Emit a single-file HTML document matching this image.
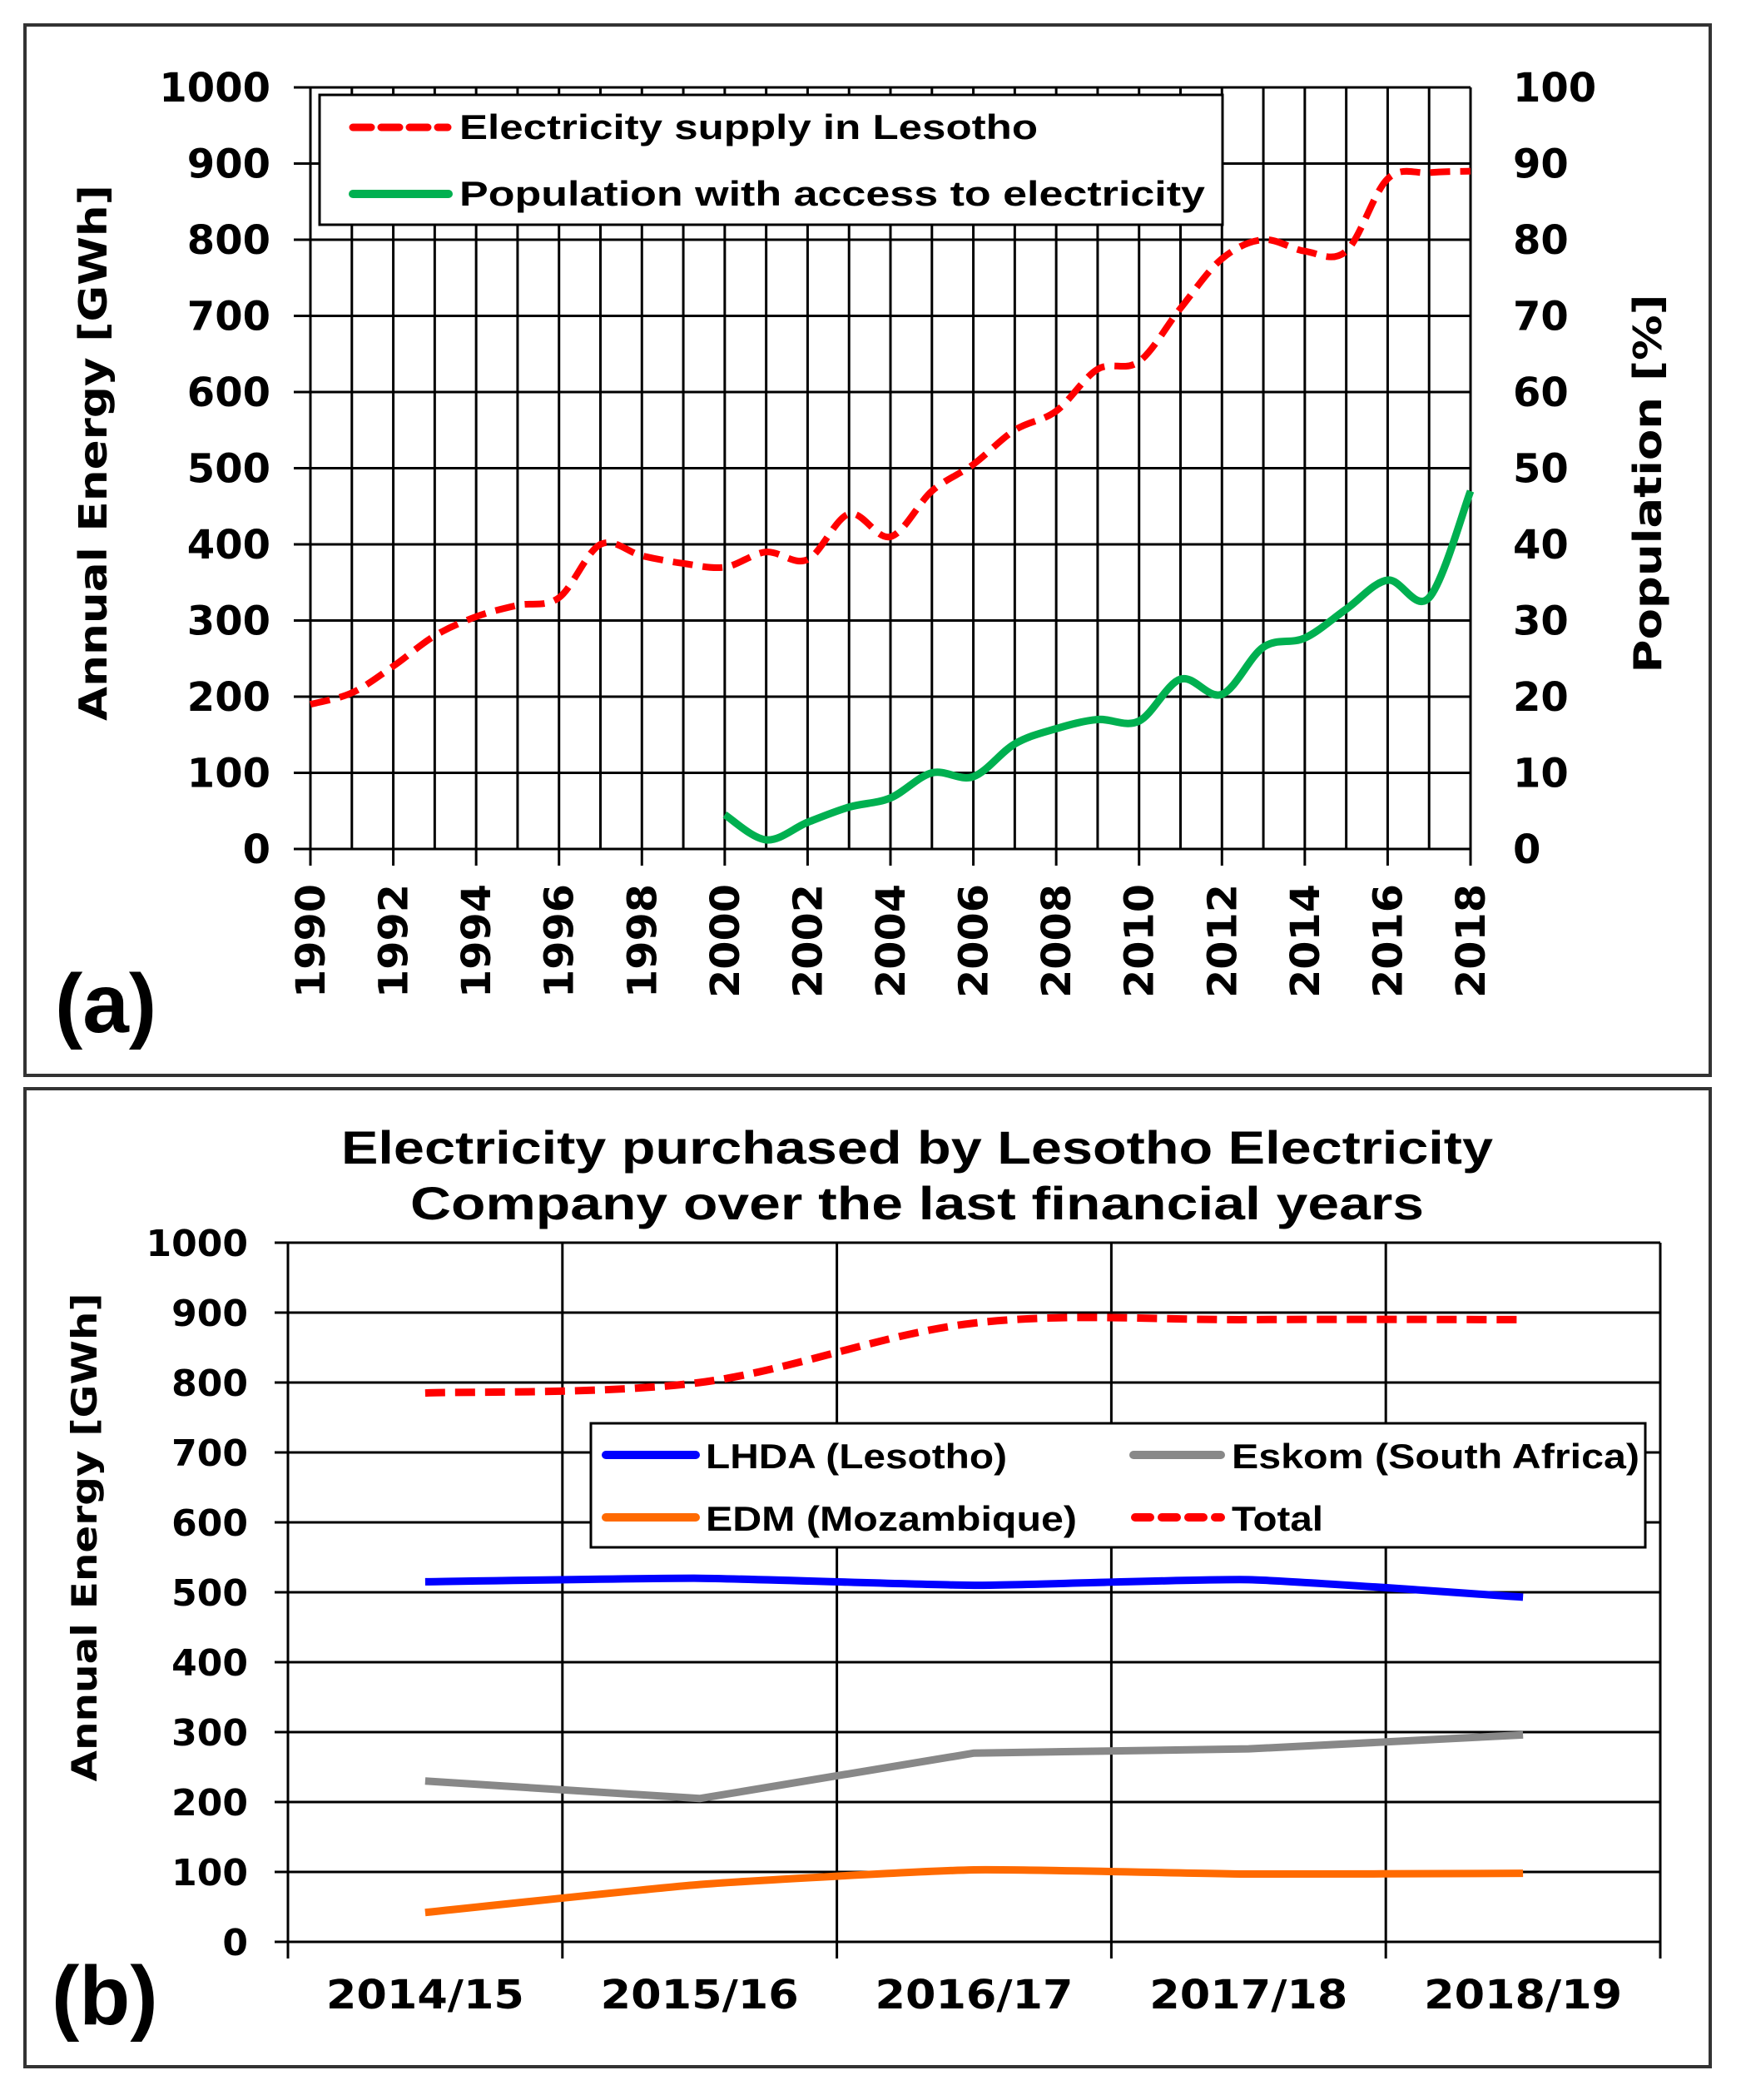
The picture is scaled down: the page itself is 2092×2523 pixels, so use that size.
<!DOCTYPE html>
<html><head><meta charset="utf-8"><style>
html,body{margin:0;padding:0;background:#fff}
svg{display:block}
.v{font-family:"DejaVu Sans",sans-serif;font-weight:bold;fill:#000}
.c{font-family:"Liberation Sans",sans-serif;font-weight:bold;fill:#000}
</style></head><body>
<svg id="s" width="2092" height="2523" viewBox="0 0 2092 2523" xmlns="http://www.w3.org/2000/svg">
<rect x="0" y="0" width="2092" height="2523" fill="#fff"/>
<rect x="30" y="30" width="2025" height="1262" fill="none" stroke="#333" stroke-width="4"/>
<rect x="30" y="1308" width="2025" height="1175" fill="none" stroke="#333" stroke-width="4"/>
<g id="ga"></g>
<g id="gb"></g>
<text class="c" x="66" y="1240" font-size="100">(a)</text>
<text class="c" x="62" y="2432" font-size="100">(b)</text>
<text class="v" transform="translate(128,544) rotate(-90)" text-anchor="middle" font-size="46" textLength="644" lengthAdjust="spacingAndGlyphs">Annual Energy [GWh]</text>
<text class="v" transform="translate(1996,581) rotate(-90)" text-anchor="middle" font-size="46" textLength="455" lengthAdjust="spacingAndGlyphs">Population [%]</text>
<text class="v" transform="translate(116,1847) rotate(-90)" text-anchor="middle" font-size="42" textLength="587" lengthAdjust="spacingAndGlyphs">Annual Energy [GWh]</text>
<text class="c" x="1102" y="1398" text-anchor="middle" font-size="56" textLength="1384" lengthAdjust="spacingAndGlyphs">Electricity purchased by Lesotho Electricity</text>
<text class="c" x="1102" y="1465" text-anchor="middle" font-size="56" textLength="1218" lengthAdjust="spacingAndGlyphs">Company over the last financial years</text>
</svg>
<script>
var NS="http://www.w3.org/2000/svg";
function el(p,t,a,txt){var e=document.createElementNS(NS,t);for(var k in a)e.setAttribute(k,a[k]);if(txt!=null)e.textContent=txt;p.appendChild(e);return e;}
function smooth(pts,t){t=t||6;var d="M"+pts[0][0]+","+pts[0][1];for(var i=0;i<pts.length-1;i++){var p0=pts[i-1]||pts[i],p1=pts[i],p2=pts[i+1],p3=pts[i+2]||p2;d+=" C"+(p1[0]+(p2[0]-p0[0])/t)+","+(p1[1]+(p2[1]-p0[1])/t)+" "+(p2[0]-(p3[0]-p1[0])/t)+","+(p2[1]-(p3[1]-p1[1])/t)+" "+p2[0]+","+p2[1];}return d;}
var ga=document.getElementById("ga");
var X0=373,X1=1767,Y0=1020,Y1=105;
function xa(y){return X0+(y-1990)*(X1-X0)/28;}
function ya(v){return Y0-(v)*(Y0-Y1)/1000;}
for(var y=1990;y<=2018;y++){el(ga,"line",{x1:xa(y),y1:Y1,x2:xa(y),y2:(y%2==0?Y0+20:Y0),stroke:"#000","stroke-width":3});}
for(var v=0;v<=1000;v+=100){el(ga,"line",{x1:X0-20,y1:ya(v),x2:X1,y2:ya(v),stroke:"#000","stroke-width":3});
 el(ga,"text",{"class":"v",x:325,y:ya(v)+17,"text-anchor":"end","font-size":48},v);
 el(ga,"text",{"class":"v",x:1818,y:ya(v)+17,"font-size":48},v/10);}
for(var y=1990;y<=2018;y+=2){el(ga,"text",{"class":"v",transform:"translate("+(xa(y)+17)+",1062) rotate(-90)","text-anchor":"end","font-size":48,textLength:137,lengthAdjust:"spacingAndGlyphs"},y);}
el(ga,"rect",{x:384,y:114,width:1085,height:156,fill:"#fff",stroke:"#000","stroke-width":3});
el(ga,"line",{x1:424,y1:153,x2:538,y2:153,stroke:"#f00","stroke-width":9,"stroke-dasharray":"22,12","stroke-linecap":"round"});
el(ga,"text",{"class":"c",x:552,y:167,"font-size":42,textLength:695,lengthAdjust:"spacingAndGlyphs"},"Electricity supply in Lesotho");
el(ga,"line",{x1:424,y1:233,x2:539,y2:233,stroke:"#00b050","stroke-width":10,"stroke-linecap":"round"});
el(ga,"text",{"class":"c",x:552,y:247,"font-size":42,textLength:896,lengthAdjust:"spacingAndGlyphs"},"Population with access to electricity");
var red=[190,205,240,280,305,320,330,400,385,375,370,390,380,440,410,470,505,550,575,630,640,710,775,800,785,785,880,888,890];
var pr=red.map(function(v,i){return [xa(1990+i),ya(v)];});
el(ga,"path",{d:smooth(pr),fill:"none",stroke:"#f00","stroke-width":8,"stroke-dasharray":"24,12"});
var gr=[4.5,1.2,3.5,5.5,6.7,10,9.5,13.8,15.8,17,16.8,22.3,20.3,26.5,27.7,31.5,35.3,33,47];
var pg=gr.map(function(v,i){return [xa(2000+i),ya(v*10)];});
el(ga,"path",{d:smooth(pg),fill:"none",stroke:"#00b050","stroke-width":9});
var gb=document.getElementById("gb");
var B0=346,B1=1995,BY0=2333,BY1=1493;
function yb(v){return BY0-v*(BY0-BY1)/1000;}
var cw=(B1-B0)/5;
for(var i=0;i<=5;i++){el(gb,"line",{x1:B0+i*cw,y1:BY1,x2:B0+i*cw,y2:BY0+20,stroke:"#000","stroke-width":3});}
for(var v=0;v<=1000;v+=100){el(gb,"line",{x1:B0-16,y1:yb(v),x2:B1,y2:yb(v),stroke:"#000","stroke-width":3});
 el(gb,"text",{"class":"v",x:298,y:yb(v)+16,"text-anchor":"end","font-size":44},v);}
var cats=["2014/15","2015/16","2016/17","2017/18","2018/19"];
function xb(i){return B0+cw*(i+0.5);}
cats.forEach(function(c,i){el(gb,"text",{"class":"v",x:xb(i),y:2413,"text-anchor":"middle","font-size":48,textLength:238,lengthAdjust:"spacingAndGlyphs"},c);});
function ser(vals,col,w,dash,sm){var p=vals.map(function(v,i){return [xb(i),yb(v)];});var d=sm?smooth(p,sm):"M"+p.map(function(q){return q.join(",");}).join(" L");var a={d:d,fill:"none",stroke:col,"stroke-width":w,"stroke-linejoin":"round"};if(dash)a["stroke-dasharray"]=dash;el(gb,"path",a);}
ser([785,800,885,890,890],"#f00",9,"24,12",6);
ser([42,82,103,97,98],"#ff6a00",9,null,12);
ser([230,205,270,276,296],"#888",9,null,0);
ser([515,520,510,518,493],"#0000ff",9,null,12);
el(gb,"rect",{x:710,y:1710,width:1267,height:149,fill:"#fff",stroke:"#000","stroke-width":3});
el(gb,"line",{x1:728,y1:1748,x2:836,y2:1748,stroke:"#00f","stroke-width":10,"stroke-linecap":"round"});
el(gb,"text",{"class":"c",x:848,y:1764,"font-size":42,textLength:362,lengthAdjust:"spacingAndGlyphs"},"LHDA (Lesotho)");
el(gb,"line",{x1:1362,y1:1748,x2:1467,y2:1748,stroke:"#888","stroke-width":10,"stroke-linecap":"round"});
el(gb,"text",{"class":"c",x:1480,y:1764,"font-size":42,textLength:490,lengthAdjust:"spacingAndGlyphs"},"Eskom (South Africa)");
el(gb,"line",{x1:728,y1:1823,x2:836,y2:1823,stroke:"#ff6a00","stroke-width":10,"stroke-linecap":"round"});
el(gb,"text",{"class":"c",x:848,y:1839,"font-size":42,textLength:446,lengthAdjust:"spacingAndGlyphs"},"EDM (Mozambique)");
el(gb,"line",{x1:1364,y1:1823,x2:1467,y2:1823,stroke:"#f00","stroke-width":10,"stroke-dasharray":"18,14","stroke-linecap":"round"});
el(gb,"text",{"class":"c",x:1480,y:1839,"font-size":42,textLength:110,lengthAdjust:"spacingAndGlyphs"},"Total");
</script>
</body></html>
